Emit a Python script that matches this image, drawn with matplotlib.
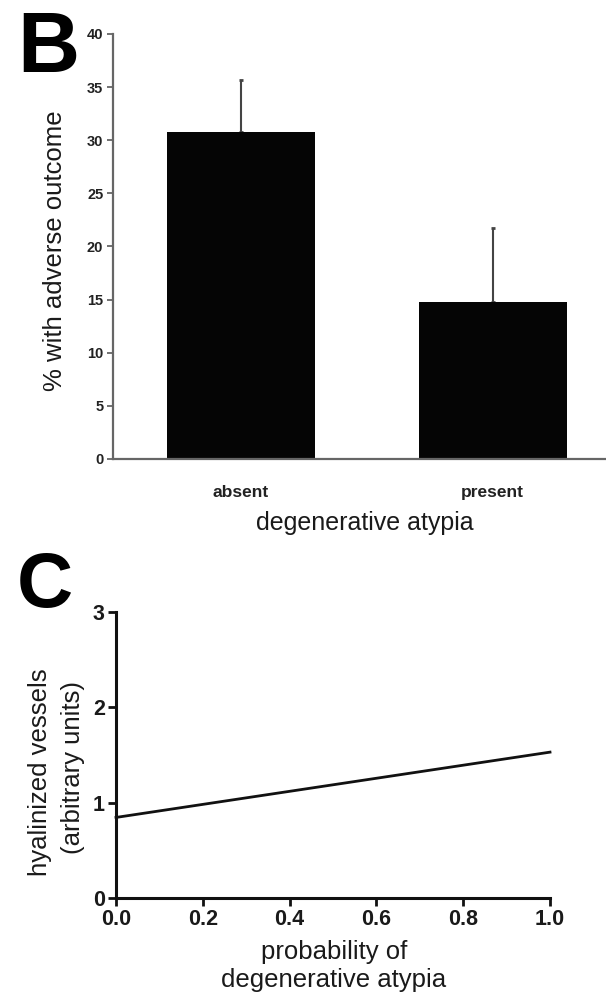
import numpy as np
import matplotlib
matplotlib.use("Agg")
import matplotlib.pyplot as plt

plt.rcParams['font.family'] = ['Liberation Sans', 'DejaVu Sans']

# panel B data
groups = ['absent', 'present']
pct_adverse = [30.8, 14.8]
err_upper = [4.9, 6.9]
b_yticks = [0, 5, 10, 15, 20, 25, 30, 35, 40]

# panel C data
prob_x = [0.0, 1.0]
hyal_y = [0.845, 1.53]
c_xticks = [0.0, 0.2, 0.4, 0.6, 0.8, 1.0]
c_yticks = [0, 1, 2, 3]

W, H = 606, 992
fig = plt.figure(figsize=(W / 100, H / 100), dpi=100)


def px_axes(left, top, right, bottom):
    return fig.add_axes([left / W, 1 - bottom / H, (right - left) / W, (bottom - top) / H])


# ---- B ----
axb = px_axes(113, 34, 606, 459)
xpos = np.arange(len(groups))
axb.bar(xpos, pct_adverse, width=0.587, color='#050505', zorder=2)
axb.errorbar(xpos, pct_adverse, yerr=[[0] * len(err_upper), err_upper], fmt='none',
             ecolor='#444444', elinewidth=1.5, capsize=1.5, capthick=2, zorder=1)
axb.set_xlim(-0.506, 1.45)
axb.set_ylim(0, 40)
axb.set_yticks(b_yticks)
axb.set_yticklabels([str(v) for v in b_yticks], fontsize=10.5, fontweight='bold', color='#222222')
axb.set_xticks(xpos)
axb.set_xticklabels(groups, fontsize=12.5, fontweight='bold', color='#222222')
axb.tick_params(axis='x', length=0, pad=19)
axb.tick_params(axis='y', length=4, width=1.3, color='#666666', pad=3)
for s in ['top', 'right']:
    axb.spines[s].set_visible(False)
for s in ['left', 'bottom']:
    axb.spines[s].set_color('#666666')
    axb.spines[s].set_linewidth(1.6)
fig.text(55 / W, 1 - 251 / H, '% with adverse outcome', rotation=90, ha='center', va='center',
         fontsize=18.5, color='#1a1a1a')
fig.text(365 / W, 1 - 523 / H, 'degenerative atypia', ha='center', va='center',
         fontsize=18, color='#1a1a1a')
fig.text(17 / W, 1 - 50 / H, 'B', ha='left', va='center', fontsize=62, fontweight='bold')

# ---- C ----
axc = px_axes(116, 612, 550, 898)
axc.plot(prob_x, hyal_y, color='#111111', lw=2, clip_on=False)
axc.set_xlim(0, 1)
axc.set_ylim(0, 3)
axc.set_xticks(c_xticks)
axc.set_xticklabels([f'{v:.1f}' for v in c_xticks], fontsize=15.5, fontweight='bold', color='#1a1a1a')
axc.set_yticks(c_yticks)
axc.set_yticklabels([str(v) for v in c_yticks], fontsize=15.5, fontweight='bold', color='#1a1a1a')
axc.tick_params(axis='both', length=6, width=2, color='#111111', pad=2)
for s in ['top', 'right']:
    axc.spines[s].set_visible(False)
for s in ['left', 'bottom']:
    axc.spines[s].set_color('#111111')
    axc.spines[s].set_linewidth(2.2)
fig.text(40 / W, 1 - 772 / H, 'hyalinized vessels', rotation=90, ha='center', va='center',
         fontsize=18.5, color='#1a1a1a')
fig.text(73 / W, 1 - 768 / H, '(arbitrary units)', rotation=90, ha='center', va='center',
         fontsize=18.5, color='#1a1a1a')
fig.text(334 / W, 1 - 952 / H, 'probability of', ha='center', va='center',
         fontsize=18.5, color='#1a1a1a')
fig.text(334 / W, 1 - 980 / H, 'degenerative atypia', ha='center', va='center',
         fontsize=18.5, color='#1a1a1a')
fig.text(17 / W, 1 - 587 / H, 'C', ha='left', va='center', fontsize=56, fontweight='bold')

fig.savefig('out.png', dpi=100)
